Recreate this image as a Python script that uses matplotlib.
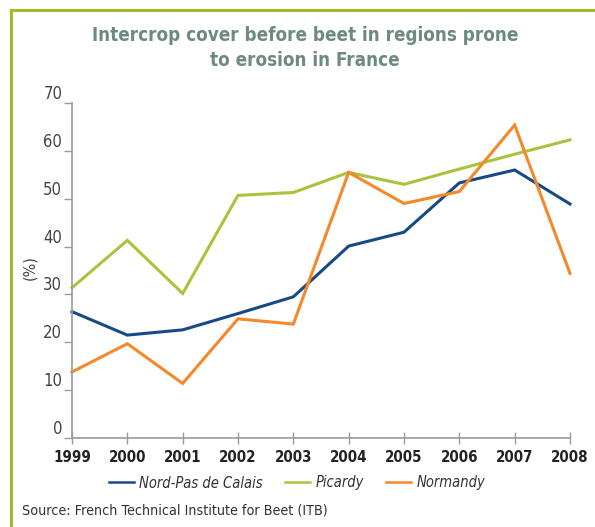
import matplotlib
matplotlib.use('Agg')
import matplotlib.pyplot as plt
from matplotlib.lines import Line2D

# ── Data ───────────────────────────────────────────────────────────────────────
years = [1999, 2000, 2001, 2002, 2003, 2004, 2005, 2006, 2007, 2008]
nord_pas_de_calais = [26.4, 21.5, 22.6, 26.0, 29.5, 40.1, 43.0, 53.3, 56.0, 48.9]
picardy = [31.4, 41.3, 30.2, 50.7, 51.3, 55.5, 53.0, 56.2, 59.3, 62.3]
normandy = [13.8, 19.7, 11.4, 24.9, 23.8, 55.5, 49.0, 51.5, 65.4, 34.4]
y_ticks = [0, 10, 20, 30, 40, 50, 60, 70]

# ── Style ──────────────────────────────────────────────────────────────────────
NARROW = ['DejaVu Sans Condensed', 'DejaVu Sans']
plt.rcParams['font.family'] = NARROW
plt.rcParams['font.stretch'] = 'condensed'

BLUE = '#174a85'
GREEN = '#a9c43c'
ORANGE = '#f5882a'
FRAME = '#a3ba2c'
AXIS_GREY = '#9a9a9a'

fig = plt.figure(figsize=(5.95, 5.27), dpi=100)
ax = fig.add_axes([72 / 595, 89 / 527, 498 / 595, 335 / 527])

for vals, col in [(nord_pas_de_calais, BLUE), (picardy, GREEN), (normandy, ORANGE)]:
    ax.plot(years, vals, color=col, linewidth=2.2, clip_on=False, solid_joinstyle='miter')

ax.set_xlim(1999, 2008)
ax.set_ylim(0, 70)
ax.set_xticks(years)
ax.set_xticklabels([str(y) for y in years], fontsize=10.8, fontweight='bold', color='#222222')
ax.set_yticks(y_ticks)
ax.set_yticklabels([str(t) for t in y_ticks], fontsize=12, color='#444444', va='bottom')
ax.tick_params(axis='y', direction='out', length=6, width=1, color=AXIS_GREY, pad=1)
ax.tick_params(axis='x', direction='inout', length=8, width=1, color=AXIS_GREY, pad=5)
for s in ['top', 'right']:
    ax.spines[s].set_visible(False)
for s in ['left', 'bottom']:
    ax.spines[s].set_color(AXIS_GREY)
    ax.spines[s].set_linewidth(1.2)

fig.text(30 / 595, 1 - 268 / 527, '(%)', rotation=90, ha='center', va='center',
         fontsize=11.5, color='#444444')

# Title
fig.text(305 / 595, 1 - 48 / 527, 'Intercrop cover before beet in regions prone\nto erosion in France',
         ha='center', va='center', fontsize=13.5, fontweight='bold', color='#6d8a82',
         linespacing=1.4)

# Legend
handles = [Line2D([], [], color=c, linewidth=1.8) for c in (BLUE, GREEN, ORANGE)]
fig.legend(handles, ['Nord-Pas de Calais', 'Picardy', 'Normandy'],
           loc='center', bbox_to_anchor=(297 / 595, 1 - 483 / 527), ncol=3, frameon=False,
           prop={'family': NARROW, 'style': 'italic', 'size': 10.5, 'stretch': 'condensed'},
           handlelength=1.75, handletextpad=0.35, columnspacing=1.5, labelcolor='#333333')

fig.text(22 / 595, 1 - 510 / 527, 'Source: French Technical Institute for Beet (ITB)',
         ha='left', va='center', fontsize=10.3, color='#333333')

# Frame (left and top only)
fig.add_artist(Line2D([11 / 595, 11 / 595], [0, 1 - 10 / 527], transform=fig.transFigure,
                      color=FRAME, linewidth=2.2, solid_capstyle='projecting'))
fig.add_artist(Line2D([11 / 595, 1], [1 - 10 / 527, 1 - 10 / 527], transform=fig.transFigure,
                      color=FRAME, linewidth=2.2, solid_capstyle='projecting'))

fig.savefig('out.png', dpi=100)
